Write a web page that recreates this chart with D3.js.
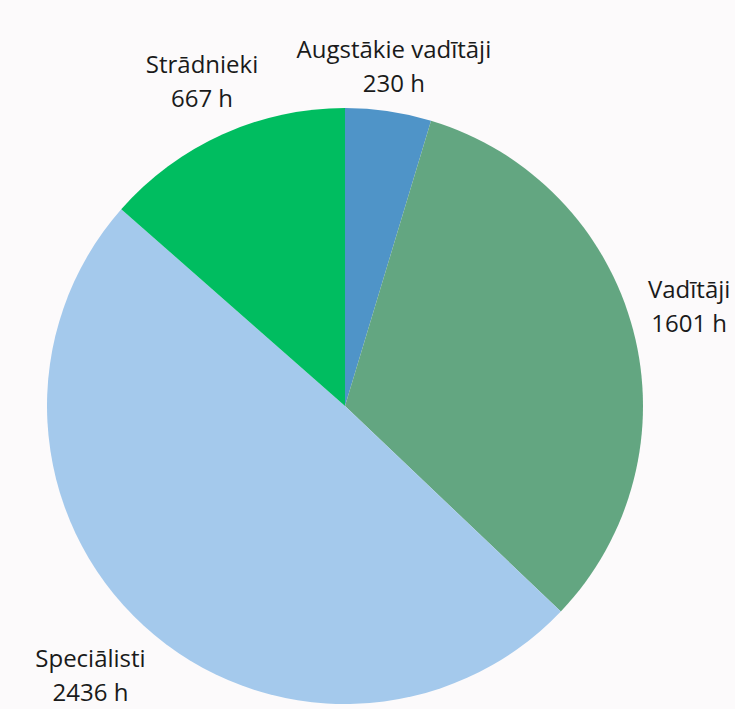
<!DOCTYPE html>
<html>
<head>
<meta charset="utf-8">
<script src="https://cdn.jsdelivr.net/npm/d3@7"></script>
<style>
  html, body { margin: 0; padding: 0; background: #fcfafb; }
  svg { display: block; }
</style>
</head>
<body>
<script>
'use strict';

// chart data
const categories = ["Augstākie vadītāji", "Vadītāji", "Speciālisti", "Strādnieki"];
const hours = [230, 1601, 2436, 667];
const colors = ["#4f94c8", "#63a681", "#a4c9ec", "#00bd60"];

(function() {
  const width = 735, height = 709;
  const cx = 345, cy = 406, radius = 298;
  // how far out each label sits from the centre
  const labelRadius = [335, 356, 377, 347];

  const svg = d3.select('body')
    .append('svg')
    .attr('width', width)
    .attr('height', height);

  const rows = categories.map((c, i) => ({ name: c, value: hours[i], color: colors[i], i: i }));

  const pie = d3.pie()
    .sort(null)
    .value((d) => d.value);

  const arc = d3.arc()
    .innerRadius(0)
    .outerRadius(radius);

  const g = svg.append('g')
    .attr('transform', 'translate(' + cx + ',' + cy + ')');

  const slices = pie(rows);

  g.selectAll('path')
    .data(slices)
    .enter()
    .append('path')
      .attr('d', arc)
      .attr('fill', (d) => d.data.color);

  // labels: name on one line, hours under it
  slices.forEach((d) => {
    const r = labelRadius[d.data.i];
    const pos = d3.arc().innerRadius(r).outerRadius(r).centroid(d);
    const t = g.append('text')
      .attr('x', pos[0])
      .attr('y', pos[1])
      .attr('text-anchor', 'middle')
      .style('font-family', '"Open Sans", sans-serif')
      .style('font-size', '24px')
      .style('fill', '#1a1a1a');
    t.append('tspan')
      .attr('x', pos[0])
      .attr('dy', '-0.71em')
      .text(d.data.name);
    t.append('tspan')
      .attr('x', pos[0])
      .attr('dy', '1.42em')
      .text(d.data.value + ' h');
  });
})();
</script>
</body>
</html>
